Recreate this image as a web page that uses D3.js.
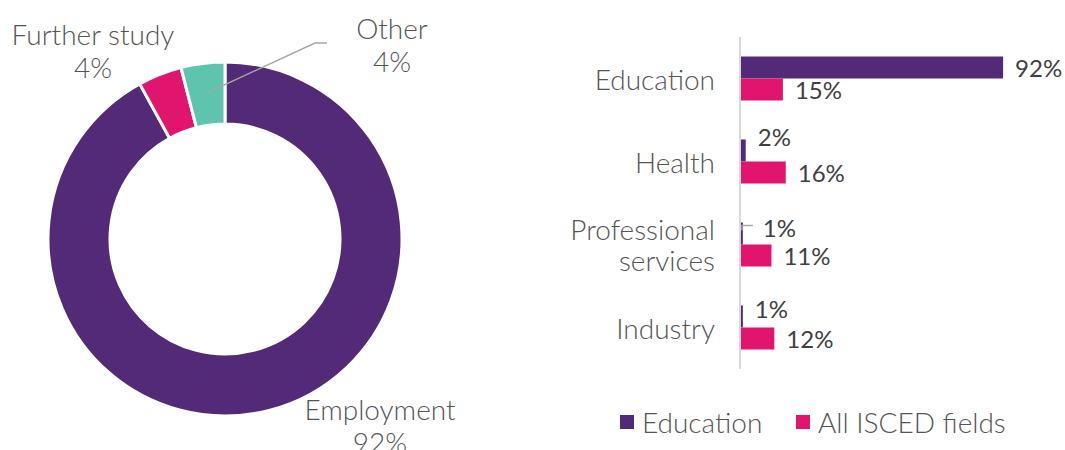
<!DOCTYPE html>
<html>
<head>
<meta charset="utf-8">
<script src="https://cdn.jsdelivr.net/npm/d3@7"></script>
<style>
  body { margin: 0; background: #fff; }
  svg text { font-family: Lato, "Open Sans", sans-serif; }
</style>
</head>
<body>
<div id="chart"></div>
<script>
// donut data
var donutLabels = ["Employment", "Further study", "Other"];
var donutValues = [92, 4, 4];
var donutColors = ["#532a77", "#e1156d", "#5fc4ad"];

// bar data
var barCategories = ["Education", "Health", "Professional services", "Industry"];
var seriesNames = ["Education", "All ISCED fields"];
var educationValues = [92, 2, 1, 1];
var allIscedValues = [15, 16, 11, 12];
var seriesColors = ["#532a77", "#e1156d"];

var width = 1065, height = 450;
var textColor = "#555555";

var svg = d3.select("#chart").append("svg")
    .attr("width", width).attr("height", height);

// ---------- donut ----------
var cx = 225, cy = 239;
var outerR = 177, innerR = 115;

var pie = d3.pie().sort(null).value(function(d) { return d; });
var arc = d3.arc().innerRadius(innerR).outerRadius(outerR);

var donut = svg.append("g").attr("transform", "translate(" + cx + "," + cy + ")");
donut.selectAll("path")
    .data(pie(donutValues))
    .enter().append("path")
    .attr("d", arc)
    .attr("fill", function(d, i) { return donutColors[i]; })
    .attr("stroke", "#fff")
    .attr("stroke-width", 3);

// leader line for "Other"
var otherArc = pie(donutValues)[2];
var otherPt = d3.arc().innerRadius(innerR + 32).outerRadius(innerR + 32).centroid(otherArc);
donut.append("polyline")
    .attr("points", [otherPt, [90, -196], [102, -196]].map(function(p) { return p.join(","); }).join(" "))
    .attr("fill", "none")
    .attr("stroke", "#a6a6a6")
    .attr("stroke-width", 1.5);

// donut labels (placed like the original's best-fit labels)
var donutLabelPos = [[155, 181], [-132, -194], [167, -200]];
donutLabels.forEach(function(name, i) {
    var t = donut.append("text")
        .attr("x", donutLabelPos[i][0]).attr("y", donutLabelPos[i][1])
        .attr("text-anchor", "middle")
        .attr("fill", textColor)
        .attr("font-weight", 300)
        .attr("font-size", "28px");
    t.append("tspan").attr("x", donutLabelPos[i][0]).text(name);
    t.append("tspan").attr("x", donutLabelPos[i][0]).attr("dy", 33).text(donutValues[i] + "%");
});

// ---------- bars ----------
var x = d3.scaleLinear().domain([0, 100]).range([740, 1026]);
var y = d3.scaleBand().domain(barCategories).range([37, 369]).padding(0);
var barH = 22;
// nudges for the crowded small "Education" labels [dy, dx]
var smallLabelNudge = [[0, 0], [-14, 0], [-6, 8], [-8, 0]];

var rows = barCategories.map(function(c, i) {
    return { cat: c, vals: [educationValues[i], allIscedValues[i]] };
});

var bars = svg.append("g");
rows.forEach(function(r, i) {
    var mid = y(r.cat) + y.bandwidth() / 2;
    r.vals.forEach(function(v, s) {
        var top = mid - barH + s * barH;
        bars.append("rect")
            .attr("x", x(0)).attr("y", top)
            .attr("width", x(v) - x(0)).attr("height", barH)
            .attr("fill", seriesColors[s]);
        var nud = s === 0 ? smallLabelNudge[i] : [0, 0];
        bars.append("text")
            .attr("x", x(v) + 12 + nud[1]).attr("y", top + barH / 2 + nud[0])
            .attr("dominant-baseline", "central")
            .attr("fill", "#404040")
            .attr("font-size", "24px")
            .text(v + "%");
    });
});

// leader tick for professional services 1%
var psMid = y("Professional services") + y.bandwidth() / 2;
bars.append("polyline")
    .attr("points", [[x(0) + 2, psMid - 14], [x(0) + 2, psMid - 19], [x(0) + 13, psMid - 19]].map(function(p) { return p.join(","); }).join(" "))
    .attr("fill", "none").attr("stroke", "#a6a6a6").attr("stroke-width", 1.5);

// axis line
svg.append("line")
    .attr("x1", x(0)).attr("x2", x(0))
    .attr("y1", y.range()[0]).attr("y2", y.range()[1])
    .attr("stroke", "#d9d9d9").attr("stroke-width", 2);

// category labels
barCategories.forEach(function(c) {
    var mid = y(c) + y.bandwidth() / 2;
    var words = c === "Professional services" ? ["Professional", "services"] : [c];
    var t = svg.append("text")
        .attr("text-anchor", "end")
        .attr("fill", textColor)
        .attr("font-weight", 300)
        .attr("font-size", "28px");
    words.forEach(function(w, k) {
        t.append("tspan")
            .attr("x", 715)
            .attr("y", mid + (k - (words.length - 1) / 2) * 31)
            .attr("dominant-baseline", "central")
            .text(w);
    });
});

// legend
var legend = svg.append("g");
var legX = [620, 796];
seriesNames.forEach(function(n, i) {
    legend.append("rect")
        .attr("x", legX[i]).attr("y", 415)
        .attr("width", 14).attr("height", 14)
        .attr("fill", seriesColors[i]);
    legend.append("text")
        .attr("x", legX[i] + 22).attr("y", 422)
        .attr("dominant-baseline", "central")
        .attr("fill", textColor)
        .attr("font-weight", 300)
        .attr("font-size", "28px")
        .text(n);
});
</script>
</body>
</html>
